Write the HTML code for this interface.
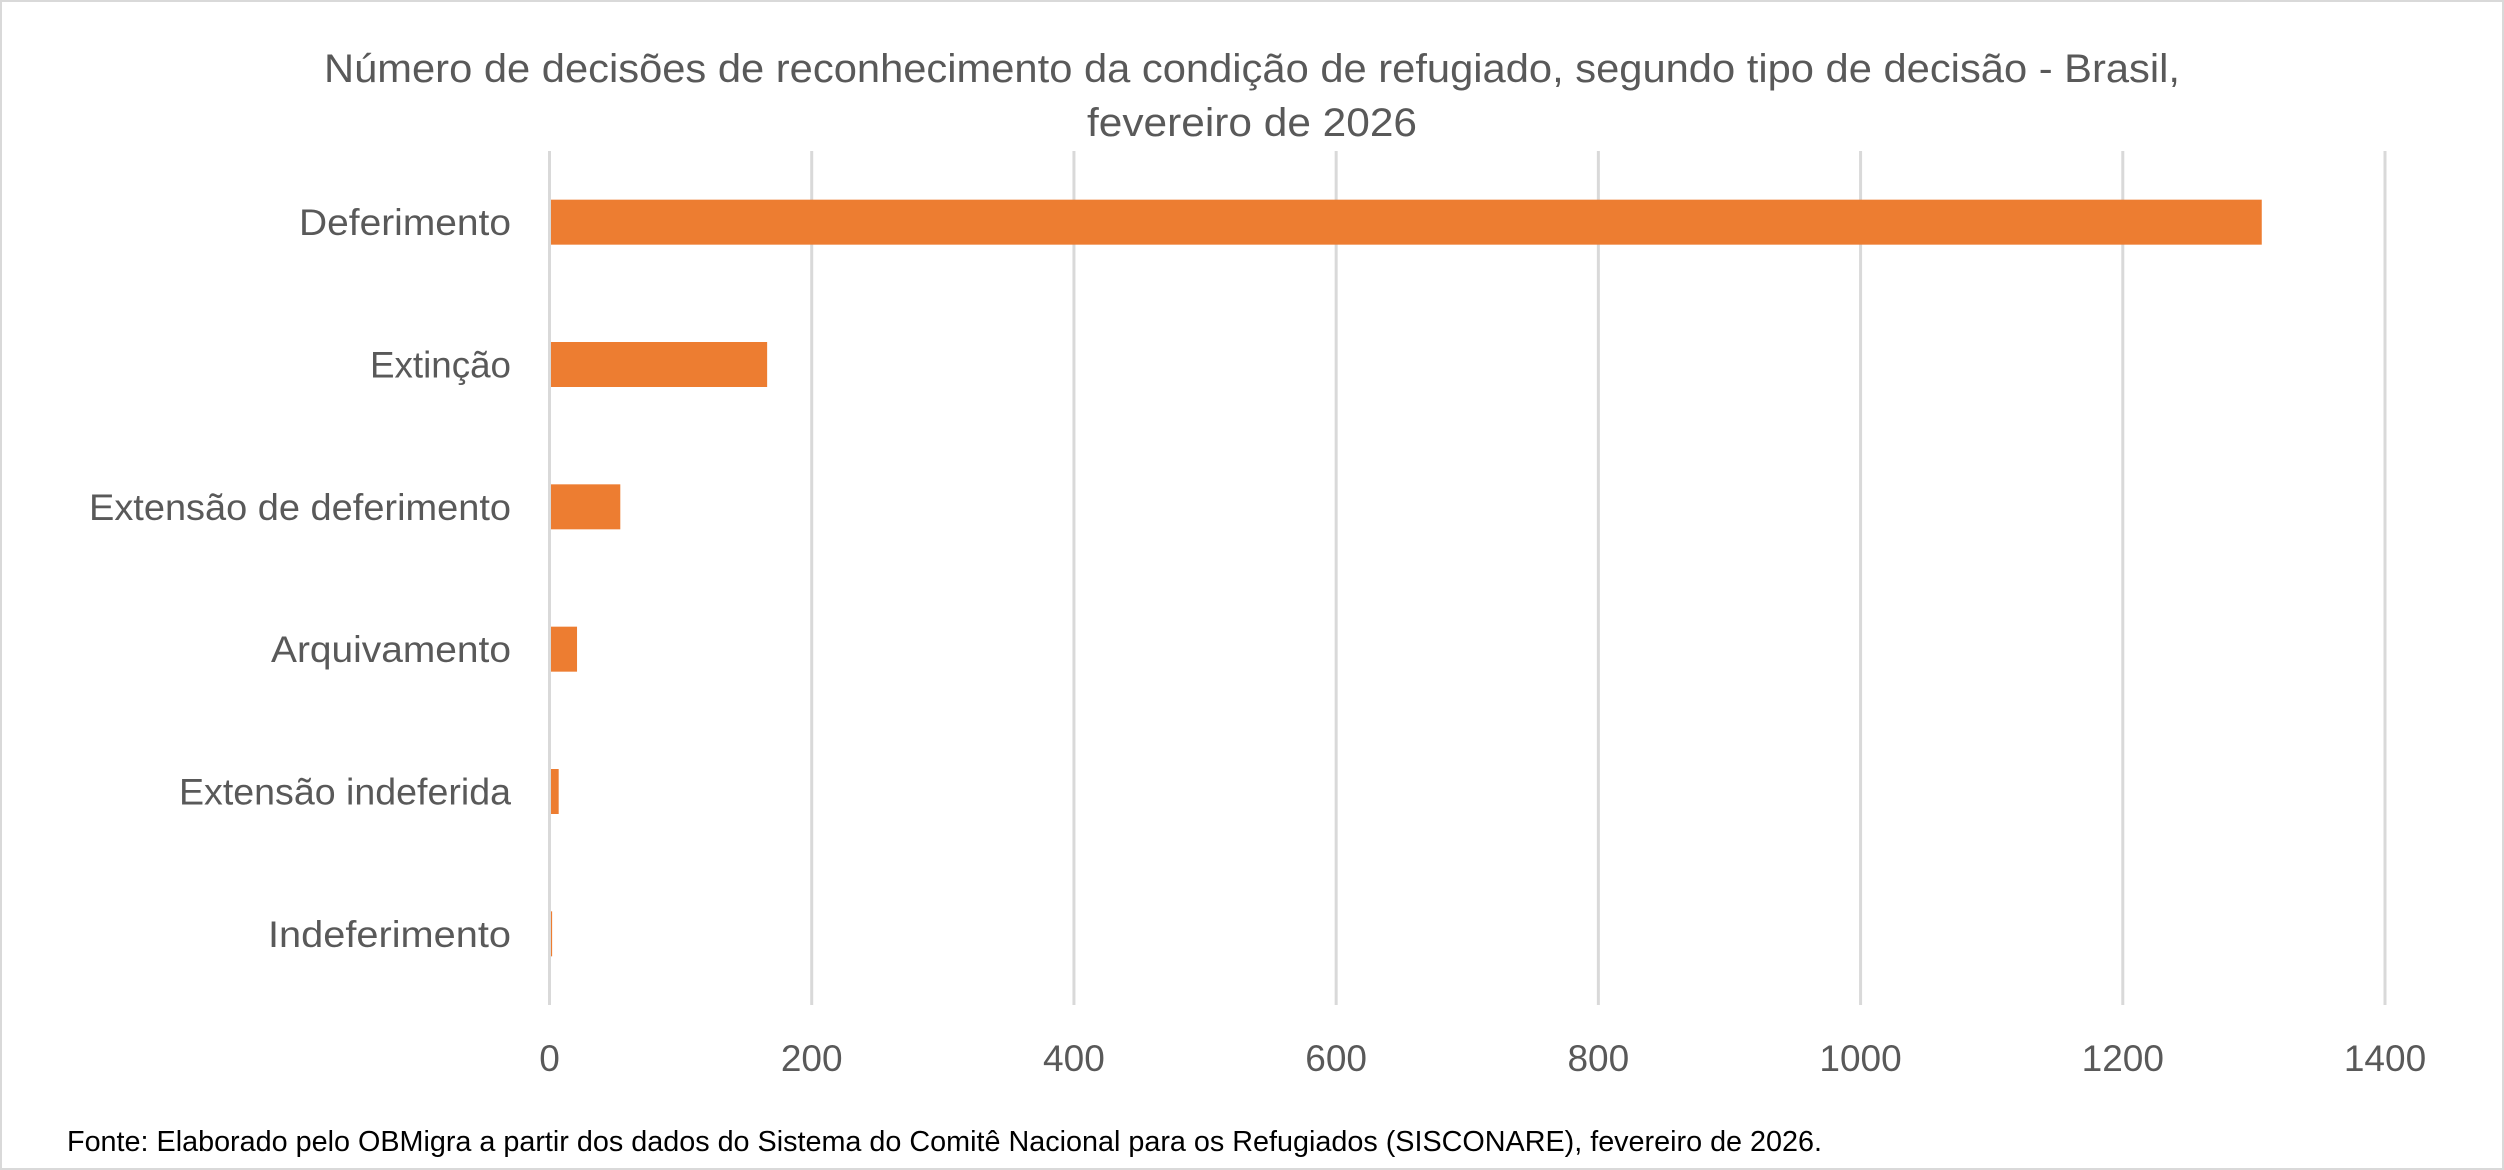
<!DOCTYPE html>
<html><head><meta charset="utf-8"><style>
html,body{margin:0;padding:0;background:#fff;}
svg{display:block;font-family:"Liberation Sans",sans-serif;}
</style></head><body>
<svg id="chart" width="2504" height="1170" viewBox="0 0 2504 1170">
<rect x="1" y="1" width="2502" height="1168" fill="#fff" stroke="#d9d9d9" stroke-width="2"/>
<text x="1252" y="82" text-anchor="middle" font-size="40" fill="#595959" textLength="1856" lengthAdjust="spacingAndGlyphs">Número de decisões de reconhecimento da condição de refugiado, segundo tipo de decisão - Brasil,</text>
<text x="1252" y="136" text-anchor="middle" font-size="40" fill="#595959" textLength="330" lengthAdjust="spacingAndGlyphs">fevereiro de 2026</text>
<g id="grid"></g>
<g id="bars"></g>
<g id="labels"></g>
<g id="ticks"></g>
<text x="67" y="1151" font-size="29" fill="#000" textLength="1755" lengthAdjust="spacingAndGlyphs">Fonte: Elaborado pelo OBMigra a partir dos dados  do Sistema do Comitê Nacional para os Refugiados (SISCONARE), fevereiro de 2026.</text>
</svg>
<script>
const categories = ["Deferimento","Extinção","Extensão de deferimento","Arquivamento","Extensão indeferida","Indeferimento"];
const values = [1306, 166, 54, 21, 7, 2];
const tickValues = [0,200,400,600,800,1000,1200,1400];
const labelWidths = [212,141,422,240,332,243];

const NS = "http://www.w3.org/2000/svg";
const x0 = 549.5, xMax = 1400, plotW = 2385 - 549.5, plotTop = 151, plotBottom = 1005;
const band = (plotBottom - plotTop) / categories.length;
const barH = 45;
function xs(v){ return x0 + v / xMax * plotW; }
function yc(i){ return plotTop + band * (i + 0.5); }
function mk(tag, attrs, parent){
  const el = document.createElementNS(NS, tag);
  for (const k in attrs) el.setAttribute(k, attrs[k]);
  parent.appendChild(el);
  return el;
}
const grid = document.getElementById('grid');
const ticks = document.getElementById('ticks');
tickValues.forEach(t => {
  const l = mk('line', {x1: xs(t), x2: xs(t), y1: plotTop, y2: plotBottom, stroke: '#d9d9d9', 'stroke-width': 3}, grid);
  
  
  const tx = mk('text', {x: xs(t), y: 1071, 'text-anchor': 'middle', 'font-size': 37, fill: '#595959'}, ticks);
  tx.textContent = t;
  
  
});
const bars = document.getElementById('bars');
const labels = document.getElementById('labels');
categories.forEach((c, i) => {
  const r = mk('rect', {x: xs(0) + 1.5, y: yc(i) - barH / 2, width: Math.max(0, xs(values[i]) - xs(0) - 1.5), height: barH, fill: '#ED7D31'}, bars);
  
  
  const t = mk('text', {x: 511, y: yc(i) + 13, 'text-anchor': 'end', 'font-size': 37, fill: '#595959', textLength: labelWidths[i], lengthAdjust: 'spacingAndGlyphs'}, labels);
  t.textContent = c;
  
  
});
</script>
</body></html>
